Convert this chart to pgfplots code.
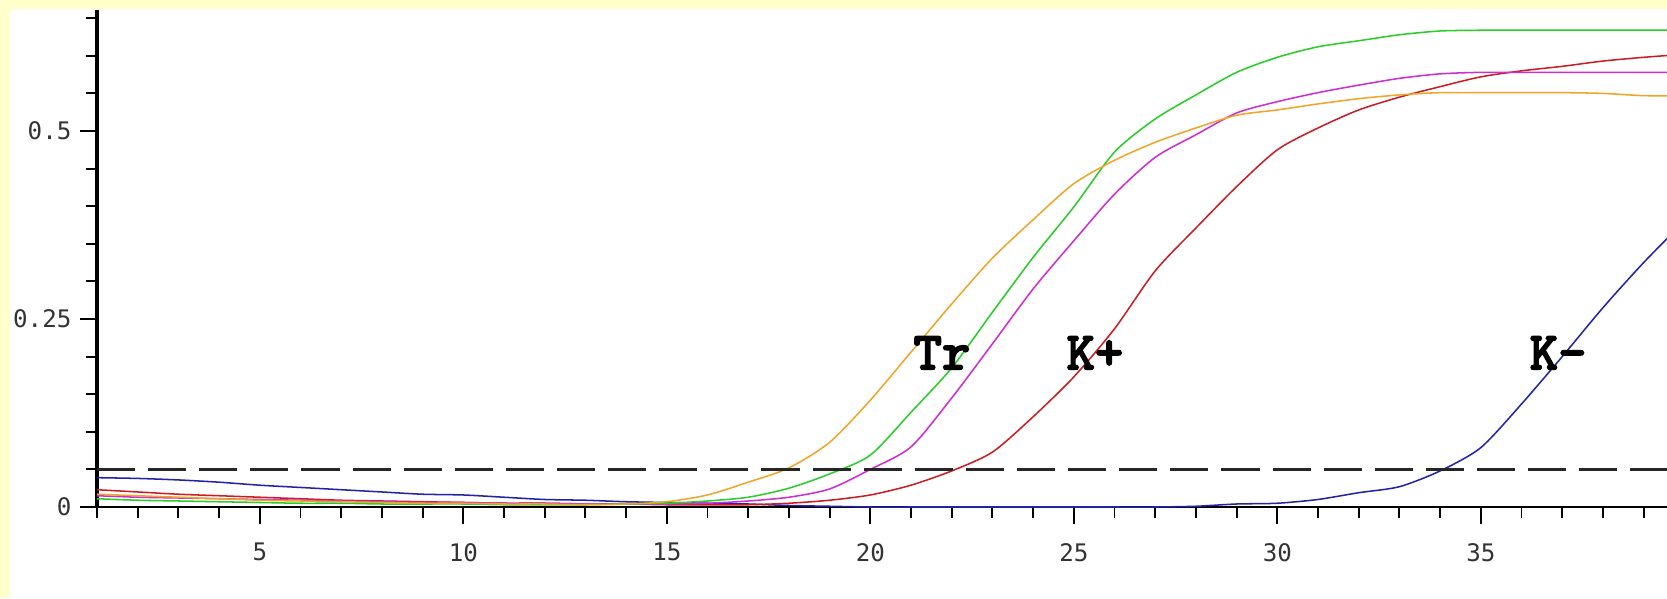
\documentclass[border=0pt]{standalone}
\usepackage{pgfplots}
\pgfplotsset{compat=1.18}
\usepackage{fontspec}
\newfontfamily\tickfont{DejaVu Sans Mono}
\newfontfamily\labfont{lmmonolt10-bold.otf}[FakeBold=2.5]
\definecolor{bgyellow}{RGB}{255,255,204}
\definecolor{corange}{RGB}{240,165,40}
\definecolor{cgreen}{RGB}{40,205,40}
\definecolor{cmagenta}{RGB}{205,45,210}
\definecolor{cred}{RGB}{200,30,35}
\definecolor{cblue}{RGB}{35,35,170}
\begin{document}
\begin{tikzpicture}[x=1pt,y=1pt]
\fill[bgyellow] (0,0) rectangle (600.12,215.28);
\fill[white] (3.6,0) rectangle (600.12,212.04);
\begin{axis}[
  at={(34.92pt,32.76pt)}, anchor=south west,
  scale only axis, width=565.2pt, height=178.92pt,
  xmin=1, xmax=39.575, ymin=0, ymax=0.6609,
  axis lines*=left,
  x axis line style={-, line width=0.7pt},
  y axis line style={-, line width=1.1pt},
  tick align=outside, major tick length=6.1pt, minor tick length=3.8pt,
  every tick/.style={black, line width=0.7pt},
  xtick={5,10,15,20,25,30,35}, xticklabels={5,10,15,20,25,30,35},
  minor xtick={1,2,3,4,6,7,8,9,11,12,13,14,16,17,18,19,21,22,23,24,26,27,28,29,31,32,33,34,36,37,38,39},
  ytick={0,0.25,0.5}, yticklabels={0,0.25,0.5},
  minor ytick={0.05,0.1,0.15,0.2,0.3,0.35,0.4,0.45,0.55,0.6,0.65},
  ticklabel style={font=\tickfont\fontsize{8.7}{10}\selectfont, text=black!80},
  xticklabel style={yshift=-3.4pt},
  yticklabel style={xshift=0.4pt},
  clip=true,
  every axis plot/.append style={smooth, tension=0.45},
]
\addplot[cblue, line width=0.55pt] coordinates {
(1,0.039) (2,0.038) (3,0.036) (4,0.033) (5,0.029) (6,0.026) (7,0.023) (8,0.020) (9,0.017) (10,0.016)
(11,0.013) (12,0.010) (13,0.009) (14,0.007) (15,0.006) (16,0.005) (17,0.004) (18,0.002) (19,0.001) (20,0.000)
(21,0.000) (22,0.000) (23,0.000) (24,0.000) (25,0.000) (26,0.000) (27,0.000) (28,0.001) (29,0.004) (30,0.005)
(31,0.010) (32,0.019) (33,0.027) (34,0.048) (35,0.079) (36,0.137) (37,0.200) (38,0.265) (39,0.325) (40,0.380)};
\addplot[cred, line width=0.55pt] coordinates {
(1,0.023) (2,0.020) (3,0.017) (4,0.015) (5,0.013) (6,0.011) (7,0.009) (8,0.008) (9,0.007) (10,0.006)
(11,0.005) (12,0.005) (13,0.004) (14,0.004) (15,0.003) (16,0.003) (17,0.003) (18,0.005) (19,0.009) (20,0.016)
(21,0.029) (22,0.048) (23,0.073) (24,0.120) (25,0.173) (26,0.237) (27,0.314) (28,0.371) (29,0.426) (30,0.475)
(31,0.504) (32,0.528) (33,0.545) (34,0.559) (35,0.572) (36,0.580) (37,0.586) (38,0.593) (39,0.598) (40,0.602)};
\addplot[cmagenta, line width=0.55pt] coordinates {
(1,0.015) (2,0.013) (3,0.012) (4,0.011) (5,0.010) (6,0.009) (7,0.008) (8,0.007) (9,0.006) (10,0.006)
(11,0.005) (12,0.005) (13,0.004) (14,0.004) (15,0.004) (16,0.005) (17,0.008) (18,0.013) (19,0.024) (20,0.050)
(21,0.080) (22,0.145) (23,0.217) (24,0.290) (25,0.354) (26,0.416) (27,0.465) (28,0.495) (29,0.524) (30,0.539)
(31,0.551) (32,0.561) (33,0.570) (34,0.576) (35,0.578) (36,0.578) (37,0.578) (38,0.578) (39,0.578) (40,0.578)};
\addplot[cgreen, line width=0.55pt] coordinates {
(1,0.011) (2,0.009) (3,0.008) (4,0.007) (5,0.006) (6,0.005) (7,0.005) (8,0.004) (9,0.004) (10,0.004)
(11,0.003) (12,0.003) (13,0.003) (14,0.004) (15,0.005) (16,0.008) (17,0.013) (18,0.025) (19,0.044) (20,0.069)
(21,0.126) (22,0.185) (23,0.259) (24,0.332) (25,0.399) (26,0.472) (27,0.516) (28,0.548) (29,0.578) (30,0.598)
(31,0.612) (32,0.620) (33,0.628) (34,0.633) (35,0.634) (36,0.634) (37,0.634) (38,0.634) (39,0.634) (40,0.634)};
\addplot[corange, line width=0.55pt] coordinates {
(1,0.017) (2,0.015) (3,0.013) (4,0.011) (5,0.009) (6,0.008) (7,0.007) (8,0.006) (9,0.005) (10,0.005)
(11,0.004) (12,0.004) (13,0.003) (14,0.004) (15,0.007) (16,0.016) (17,0.033) (18,0.052) (19,0.086) (20,0.142)
(21,0.206) (22,0.270) (23,0.331) (24,0.382) (25,0.430) (26,0.461) (27,0.485) (28,0.504) (29,0.521) (30,0.528)
(31,0.536) (32,0.543) (33,0.548) (34,0.551) (35,0.551) (36,0.551) (37,0.551) (38,0.550) (39,0.547) (40,0.547)};
\addplot[black!85, line width=0.9pt, sharp plot, dash pattern=on 13.7pt off 4.7pt] coordinates {(1,0.05) (40,0.05)};
\node[font=\labfont\fontsize{19.5}{19.5}\selectfont, anchor=base] at (axis cs:21.76,0.183) {Tr};
\node[font=\labfont\fontsize{19.5}{19.5}\selectfont, anchor=base] at (axis cs:25.52,0.183) {K+};
\node[font=\labfont\fontsize{19.5}{19.5}\selectfont, anchor=base] at (axis cs:36.9,0.183) {K-};
\end{axis}
\pgfresetboundingbox
\useasboundingbox (0,0) rectangle (600.12,215.28);
\end{tikzpicture}
\end{document}
